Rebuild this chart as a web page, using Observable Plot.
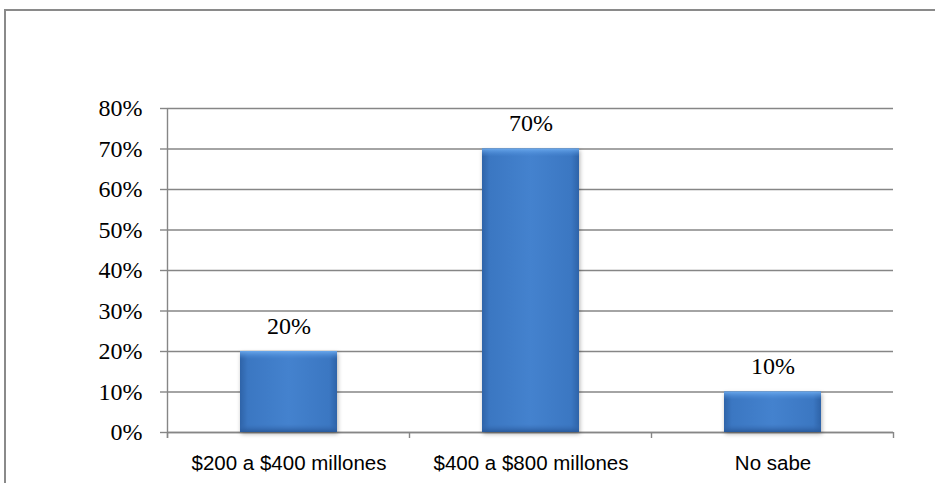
<!DOCTYPE html>
<html>
<head>
<meta charset="utf-8">
<script src="https://cdn.jsdelivr.net/npm/d3@7"></script>
<script src="https://cdn.jsdelivr.net/npm/@observablehq/plot@0.6"></script>
<style>
  html, body { margin: 0; padding: 0; background: #fff; }
  #wrap { position: relative; width: 935px; height: 483px; overflow: hidden; }
  #border { position: absolute; left: 4px; top: 9px; width: 940px; height: 480px;
            border-top: 2px solid #8a8a8a; border-left: 2px solid #8a8a8a; box-sizing: border-box; }
  .vlabel, .vlabel text { font-family: "Liberation Serif", "Times New Roman", serif !important; }
</style>
</head>
<body>
<div id="wrap"><div id="border"></div></div>
<script>
const categories = ["$200 a $400 millones", "$400 a $800 millones", "No sabe"];
const values = [0.20, 0.70, 0.10];
const valueLabels = ["20%", "70%", "10%"];
const yTicks = [0, 0.1, 0.2, 0.3, 0.4, 0.5, 0.6, 0.7, 0.8];

const data = categories.map((c, i) => ({cat: c, value: values[i], label: valueLabels[i]}));

const chart = Plot.plot({
  width: 935,
  height: 483,
  marginLeft: 167,
  marginRight: 42,
  marginTop: 108,
  marginBottom: 51,
  style: {background: "transparent", overflow: "visible"},
  x: {domain: categories, paddingInner: 0.6, paddingOuter: 0.3, axis: null},
  y: {domain: [0, 0.8], axis: null},
  marks: [
    Plot.gridY(yTicks, {stroke: "#868686", strokeOpacity: 1, strokeWidth: 1.4}),
    Plot.axisY(yTicks, {
      tickSize: 7, tickPadding: 18, stroke: "#868686", strokeWidth: 1.4,
      tickFormat: d => Math.round(d * 100) + "%",
      fontSize: 24, fontFamily: "Liberation Serif", fill: "#000", label: null
    }),
    Plot.axisX(categories, {
      tickSize: 0, tickPadding: 23, fontSize: 20.5, fontFamily: "Liberation Sans",
      fill: "#000", label: null
    }),
    Plot.ruleY([0], {stroke: "#868686", strokeWidth: 1.4}),
    Plot.barY(data, {x: "cat", y: "value", fill: "url(#gH)", className: "basebar"}),
    Plot.barY(data, {x: "cat", y1: "value", y2: "value", insetBottom: -8, fill: "url(#gTop)"}),
    Plot.barY(data, {x: "cat", y1: 0, y2: 0, insetTop: -8, fill: "url(#gBot)"}),
    Plot.text(data, {x: "cat", y: "value", text: "label", lineAnchor: "bottom", dy: -18,
      fontSize: 24, fontFamily: "Liberation Serif", fill: "#000", className: "vlabel"})
  ]
});

const svg = d3.select(chart);
svg.insert("defs", ":first-child").html(`
  <linearGradient id="gH" x1="0" x2="1" y1="0" y2="0">
    <stop offset="0" stop-color="#2e63a8"/>
    <stop offset="0.08" stop-color="#3b77c2"/>
    <stop offset="0.5" stop-color="#4482ce"/>
    <stop offset="0.92" stop-color="#3b77c2"/>
    <stop offset="1" stop-color="#2e63a8"/>
  </linearGradient>
  <linearGradient id="gTop" x1="0" x2="0" y1="0" y2="1">
    <stop offset="0" stop-color="#6fadf0" stop-opacity="0.9"/>
    <stop offset="1" stop-color="#4d8edb" stop-opacity="0.0"/>
  </linearGradient>
  <linearGradient id="gBot" x1="0" x2="0" y1="0" y2="1">
    <stop offset="0" stop-color="#3a70b8" stop-opacity="0.0"/>
    <stop offset="1" stop-color="#27589a" stop-opacity="0.95"/>
  </linearGradient>
`);
svg.select(".basebar").style("filter", "drop-shadow(1px 2px 2px rgba(0,0,0,0.3))");
svg.selectAll(".vlabel, .vlabel text").attr("font-family", "Liberation Serif").style("font-family", "Liberation Serif");

// x-axis boundary ticks and y-axis line via library scales
const xs = chart.scale("x");
const ys = chart.scale("y");
const step = xs.step, bw = xs.bandwidth;
const bounds = categories.map(c => xs.apply(c) + bw / 2 - step / 2);
bounds.push(xs.apply(categories[categories.length - 1]) + bw / 2 + step / 2);
const y0 = ys.apply(0), yTop = ys.apply(0.8);
const g = svg.append("g").attr("stroke", "#868686").attr("stroke-width", 1.4);
bounds.forEach(x => g.append("line").attr("x1", x).attr("x2", x).attr("y1", y0).attr("y2", y0 + 6));
g.append("line").attr("x1", bounds[0]).attr("x2", bounds[0]).attr("y1", yTop).attr("y2", y0 + 6);

document.getElementById("wrap").appendChild(chart);
chart.style.position = "absolute";
chart.style.left = "0";
chart.style.top = "0";
</script>
</body>
</html>
